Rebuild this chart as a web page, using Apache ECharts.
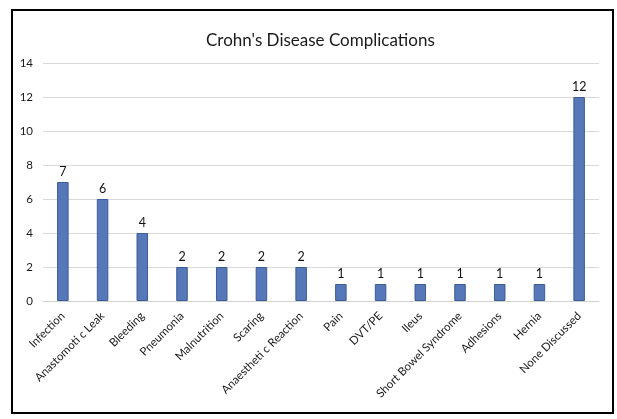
<!DOCTYPE html>
<html>
<head>
<meta charset="utf-8">
<script src="https://cdn.jsdelivr.net/npm/echarts@6/dist/echarts.min.js"></script>
<style>
  html, body { margin: 0; padding: 0; background: #fff; }
  #container { width: 617px; height: 419px; }
</style>
</head>
<body>
<div id="container"></div>
<script>
var categories = ['Infection', 'Anastomoti c Leak', 'Bleeding', 'Pneumonia', 'Malnutrition', 'Scaring',
    'Anaestheti c Reaction', 'Pain', 'DVT/PE', 'Ileus', 'Short Bowel Syndrome', 'Adhesions', 'Hernia', 'None Discussed'];
var counts = [7, 6, 4, 2, 2, 2, 2, 1, 1, 1, 1, 1, 1, 12];

var font = 'Lato, "Open Sans", sans-serif';

var dom = document.getElementById('container');
var myChart = echarts.init(dom);

var option = {
    animation: false,
    title: {
        text: "Crohn's Disease Complications",
        left: 201,
        top: 27,
        textStyle: { fontFamily: font, fontSize: 17, fontWeight: 'normal', color: '#1a1a1a' }
    },
    grid: { left: 43, right: 18, top: 63, bottom: 118, containLabel: false },
    graphic: [{
        type: 'rect',
        shape: { x: 12, y: 10, width: 601, height: 403 },
        style: { fill: 'none', stroke: '#000', lineWidth: 2 },
        silent: true
    }],
    xAxis: {
        type: 'category',
        data: categories,
        axisTick: { show: false },
        axisLine: { lineStyle: { color: '#d0d0d0' } },
        axisLabel: { rotate: 45, interval: 0, margin: 13, color: '#1a1a1a', fontFamily: font, fontSize: 11.5 }
    },
    yAxis: {
        type: 'value',
        min: 0,
        max: 14,
        interval: 2,
        axisLine: { show: false },
        axisTick: { show: false },
        axisLabel: { margin: 10, color: '#1a1a1a', fontFamily: font, fontSize: 11.5 },
        splitLine: { lineStyle: { color: '#d9d9d9', width: 1 } }
    },
    series: [{
        name: 'Complications',
        type: 'bar',
        data: counts,
        barWidth: '29%',
        itemStyle: { color: '#5677b8', borderColor: '#3b5c97', borderWidth: 1 },
        label: { show: true, position: 'top', distance: 4, color: '#111', fontFamily: font, fontSize: 12.5 }
    }]
};

if (option && typeof option === 'object') {
    myChart.setOption(option, true);
}
</script>
</body>
</html>
